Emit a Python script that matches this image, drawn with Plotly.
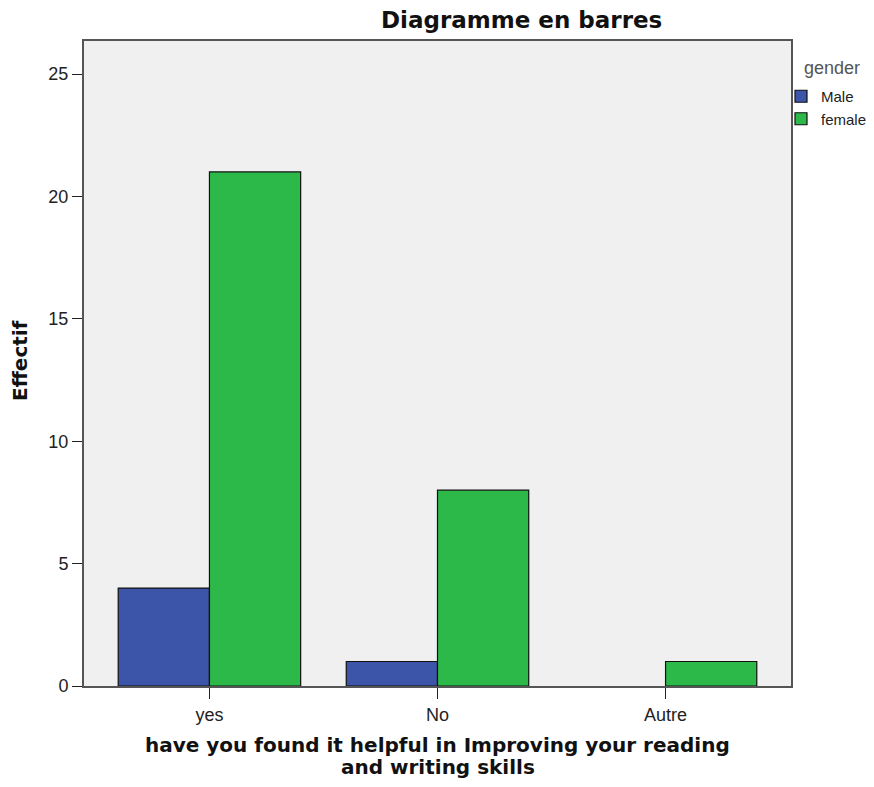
import plotly.graph_objects as go

categories = ["yes", "No", "Autre"]
male = [4, 1, 0]
female = [21, 8, 1]

W, H = 858, 771
L, R, T, B = 76, 75, 33, 93
PW, PH = W - L - R, H - T - B


def px_x(x):
    # screen x -> paper x (page has 8px body margin)
    return (x - 8 - L) / PW


def px_y(y):
    return 1 - (y - 8 - T) / PH


fig = go.Figure()
fig.add_trace(go.Bar(x=categories, y=male, name="Male",
                     marker=dict(color="#3d55a8",
                                 line=dict(color="#111111", width=[1.2 if v else 0 for v in male]))))
fig.add_trace(go.Bar(x=categories, y=female, name="female",
                     marker=dict(color="#2db84a",
                                 line=dict(color="#111111", width=[1.2 if v else 0 for v in female]))))

sans = "Liberation Sans, Arial, sans-serif"
wide = "DejaVu Sans, Verdana, sans-serif"
fig.update_layout(
    width=W, height=H,
    margin=dict(l=L, r=R, t=T, b=B, autoexpand=False),
    barmode="group", bargap=0.2, bargroupgap=0,
    plot_bgcolor="#f0f0f0", paper_bgcolor="white",
    font=dict(family=sans, size=16, color="#222222"),
    showlegend=True,
    legend=dict(xref="container", yref="container",
                x=(781 - 8) / W, y=1 - (80 - 8) / H, xanchor="left", yanchor="top",
                font=dict(family=sans, size=15, color="#222222"), itemwidth=30,
                tracegroupgap=0, bgcolor="rgba(0,0,0,0)"),
    annotations=[
        dict(text="<b>Diagramme en barres</b>", x=px_x(521), y=px_y(20),
             font=dict(family=wide, size=23, color="#111111")),
        dict(text="<b>Effectif</b>", x=px_x(20), y=px_y(361), textangle=-90,
             font=dict(family=wide, size=20, color="#111111")),
        dict(text="<b>have you found it helpful in Improving your reading</b>",
             x=px_x(437.5), y=px_y(745),
             font=dict(family=wide, size=20, color="#111111")),
        dict(text="<b>and writing skills</b>", x=px_x(437.5), y=px_y(767),
             font=dict(family=wide, size=20, color="#111111")),
        dict(text="gender", x=px_x(802), y=px_y(68), xanchor="left",
             font=dict(family=sans, size=18, color="#555555")),
    ],
)
for a in fig.layout.annotations:
    a.update(xref="paper", yref="paper", showarrow=False, yanchor="middle")
    if a.xanchor is None:
        a.xanchor = "center"

fig.update_xaxes(
    range=[-0.55, 2.55], showline=True, linecolor="#555555", linewidth=2, mirror=True,
    ticks="outside", ticklen=11, tickcolor="#222222", showgrid=False,
    tickfont=dict(family=sans, size=18, color="#222222"),
)
fig.update_yaxes(
    range=[0, 26.35], dtick=5, showline=True, linecolor="#555555", linewidth=2, mirror=True,
    ticks="outside", ticklen=10, tickcolor="#222222", showgrid=False, zeroline=False,
    tickfont=dict(family=sans, size=18, color="#222222"),
)
fig.write_html("out.html")
